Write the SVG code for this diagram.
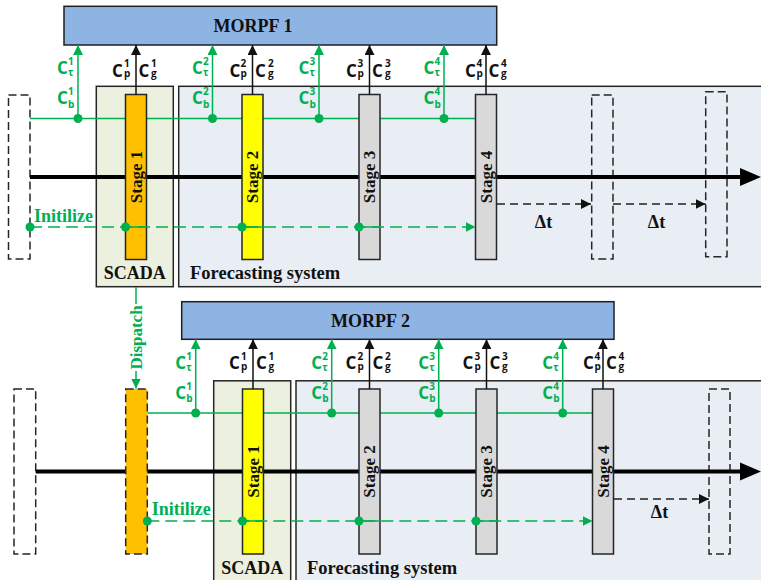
<svg xmlns="http://www.w3.org/2000/svg" width="761" height="580" viewBox="0 0 761 580">
<style>
.morpf{fill:#8EB4E3;stroke:#1F1F1F;stroke-width:1.5}
.scada{fill:#EBF1DE;stroke:#262626;stroke-width:1.5}
.fore{fill:#E9EDF4;stroke:#262626;stroke-width:1.5}
.bar{stroke:#262626;stroke-width:1.5}
.orange{fill:#FFC000}
.yellow{fill:#FFFF00}
.grey{fill:#D9D9D9}
.dbox{fill:none;stroke:#262626;stroke-width:1.5;stroke-dasharray:8 4}
.t{font-family:"Liberation Serif","Times New Roman",serif;font-weight:bold;fill:#111}
.t18{font-size:18px}
.st{font-size:17px;text-anchor:middle}
.mid{text-anchor:middle}
.c{font-family:"Open Sans","Liberation Sans",sans-serif;font-weight:bold}
.big{font-size:17px}
.sm{font-size:10px}
.g{fill:#00B050}
.k{fill:#111}
.axis{stroke:#000;stroke-width:4;fill:none}
.gl{stroke:#00B050;stroke-width:1.5;fill:none}
.gd{stroke:#00B050;stroke-width:1.5;fill:none;stroke-dasharray:12 6}
.kl{stroke:#111;stroke-width:1.5;fill:none}
.kd{stroke:#222;stroke-width:1.5;fill:none;stroke-dasharray:8 5}
.dot{fill:#00B050}
</style>
<defs>
<marker id="ak" viewBox="0 0 10 10" refX="10" refY="5" markerWidth="10" markerHeight="10" markerUnits="userSpaceOnUse" orient="auto"><path d="M0,0L10,5L0,10z" fill="#111"/></marker>
<marker id="ag" viewBox="0 0 10 10" refX="10" refY="5" markerWidth="10" markerHeight="10" markerUnits="userSpaceOnUse" orient="auto"><path d="M0,0L10,5L0,10z" fill="#00B050"/></marker>
</defs>

<!-- ===== TOP SECTION ===== -->
<g id="forecast1"><rect class="fore" x="178.7" y="86.3" width="620" height="200.4"/><text class="t" x="190" y="279" font-size="18.5">Forecasting system</text></g>
<g id="scada1"><rect class="scada" x="96.3" y="86.3" width="77" height="200.4"/><text class="t t18 mid" x="134.8" y="279">SCADA</text></g>
<g id="morpf1"><rect class="morpf" x="64" y="6.3" width="432.7" height="38.7"/><text class="t t18 mid" x="253" y="32.3">MORPF 1</text></g>
<g id="prev1"><rect class="dbox" x="8.5" y="95" width="21.5" height="164"/></g>
<g id="future1a"><rect class="dbox" x="591.7" y="95" width="21.3" height="164"/></g>
<g id="future1b"><rect class="dbox" x="705.7" y="91.7" width="21.3" height="165"/></g>

<!-- ===== BOTTOM SECTION ===== -->
<g id="forecast2"><rect class="fore" x="296" y="380.8" width="500" height="220"/><text class="t" x="307" y="573.5" font-size="18.5">Forecasting system</text></g>
<g id="scada2"><rect class="scada" x="213.7" y="380.8" width="77" height="220"/><text class="t t18 mid" x="252.2" y="573.5">SCADA</text></g>
<g id="morpf2"><rect class="morpf" x="181.7" y="301.7" width="432.3" height="37.6"/><text class="t t18 mid" x="370.5" y="326.8">MORPF 2</text></g>
<g id="prev2"><rect class="dbox" x="14" y="389" width="21.7" height="165"/></g>
<g id="future2"><rect class="dbox" x="709" y="389" width="21" height="165"/></g>

<!-- back connectors -->
<g id="connectors-back">
<line class="axis" x1="30" y1="177" x2="745" y2="177"/>
<polygon points="740,168 761,177 740,186" fill="#000"/>
<line class="gl" x1="30" y1="118.5" x2="475.5" y2="118.5"/>
<line class="axis" x1="35.7" y1="471.5" x2="745" y2="471.5"/>
<polygon points="740,462.5 761,471.5 740,480.5" fill="#000"/>
<line class="gl" x1="147.3" y1="413" x2="592.5" y2="413"/>
</g>

<!-- stage bars top -->
<g id="t-stage1"><rect class="bar orange" x="125.5" y="94.5" width="21" height="165"/><text class="t st" transform="translate(141.5,177) rotate(-90)">Stage 1</text></g>
<g id="t-stage2"><rect class="bar yellow" x="242" y="94.5" width="21" height="165"/><text class="t st" transform="translate(258,177) rotate(-90)">Stage 2</text></g>
<g id="t-stage3"><rect class="bar grey" x="359" y="94.5" width="21" height="165"/><text class="t st" transform="translate(375,177) rotate(-90)">Stage 3</text></g>
<g id="t-stage4"><rect class="bar grey" x="475.5" y="94.5" width="21" height="165"/><text class="t st" transform="translate(491.5,177) rotate(-90)">Stage 4</text></g>

<!-- stage bars bottom -->
<g id="b-dispatched"><rect x="125.7" y="389" width="21.6" height="165" fill="#FFC000" stroke="#262626" stroke-width="1.5" stroke-dasharray="8 4"/></g>
<g id="b-stage1"><rect class="bar yellow" x="242.5" y="389" width="21" height="165"/><text class="t st" transform="translate(258.5,471.5) rotate(-90)">Stage 1</text></g>
<g id="b-stage2"><rect class="bar grey" x="359" y="389" width="21" height="165"/><text class="t st" transform="translate(375,471.5) rotate(-90)">Stage 2</text></g>
<g id="b-stage3"><rect class="bar grey" x="476" y="389" width="21" height="165"/><text class="t st" transform="translate(492,471.5) rotate(-90)">Stage 3</text></g>
<g id="b-stage4"><rect class="bar grey" x="592.5" y="389" width="21" height="165"/><text class="t st" transform="translate(608.5,471.5) rotate(-90)">Stage 4</text></g>

<!-- front connectors -->
<g id="connectors">
<line class="gl" x1="78" y1="118.5" x2="78" y2="45" marker-end="url(#ag)"/>
<line class="gl" x1="212.5" y1="118.5" x2="212.5" y2="45" marker-end="url(#ag)"/>
<line class="gl" x1="319" y1="118.5" x2="319" y2="45" marker-end="url(#ag)"/>
<line class="gl" x1="444" y1="118.5" x2="444" y2="45" marker-end="url(#ag)"/>
<line class="kl" x1="136" y1="94.5" x2="136" y2="45" marker-end="url(#ak)"/>
<line class="kl" x1="252.5" y1="94.5" x2="252.5" y2="45" marker-end="url(#ak)"/>
<line class="kl" x1="369.5" y1="94.5" x2="369.5" y2="45" marker-end="url(#ak)"/>
<line class="kl" x1="486" y1="94.5" x2="486" y2="45" marker-end="url(#ak)"/>
<circle class="dot" cx="78" cy="118.5" r="4.5"/>
<circle class="dot" cx="212.5" cy="118.5" r="4.5"/>
<circle class="dot" cx="319" cy="118.5" r="4.5"/>
<circle class="dot" cx="444" cy="118.5" r="4.5"/>
<line class="gd" x1="30" y1="227" x2="475.5" y2="227" marker-end="url(#ag)"/>
<line class="gl" x1="125.5" y1="227" x2="146.5" y2="227"/>
<line class="gl" x1="242" y1="227" x2="263" y2="227"/>
<line class="gl" x1="359" y1="227" x2="380" y2="227"/>
<circle class="dot" cx="30" cy="227" r="4.5"/>
<circle class="dot" cx="125.5" cy="227" r="4.5"/>
<circle class="dot" cx="242" cy="227" r="4.5"/>
<circle class="dot" cx="359" cy="227" r="4.5"/>
<line class="kd" x1="497" y1="204" x2="591" y2="204" marker-end="url(#ak)"/>
<line class="kd" x1="613" y1="204" x2="705.5" y2="204" marker-end="url(#ak)"/>
<line class="gl" x1="136" y1="287" x2="136" y2="304"/>
<line class="gl" x1="136" y1="371" x2="136" y2="388.5" marker-end="url(#ag)"/>
<line class="gl" x1="195.7" y1="413" x2="195.7" y2="339.3" marker-end="url(#ag)"/>
<line class="gl" x1="331.7" y1="413" x2="331.7" y2="339.3" marker-end="url(#ag)"/>
<line class="gl" x1="438.7" y1="413" x2="438.7" y2="339.3" marker-end="url(#ag)"/>
<line class="gl" x1="562.7" y1="413" x2="562.7" y2="339.3" marker-end="url(#ag)"/>
<line class="kl" x1="253" y1="389" x2="253" y2="339.3" marker-end="url(#ak)"/>
<line class="kl" x1="369.5" y1="389" x2="369.5" y2="339.3" marker-end="url(#ak)"/>
<line class="kl" x1="486.5" y1="389" x2="486.5" y2="339.3" marker-end="url(#ak)"/>
<line class="kl" x1="603" y1="389" x2="603" y2="339.3" marker-end="url(#ak)"/>
<circle class="dot" cx="195.7" cy="413" r="4.5"/>
<circle class="dot" cx="331.7" cy="413" r="4.5"/>
<circle class="dot" cx="438.7" cy="413" r="4.5"/>
<circle class="dot" cx="562.7" cy="413" r="4.5"/>
<line class="gd" x1="147.3" y1="521" x2="592.5" y2="521" marker-end="url(#ag)"/>
<line class="gl" x1="242.5" y1="521" x2="263.5" y2="521"/>
<line class="gl" x1="359" y1="521" x2="380" y2="521"/>
<line class="gl" x1="476" y1="521" x2="497" y2="521"/>
<circle class="dot" cx="147.3" cy="521" r="4.5"/>
<circle class="dot" cx="242.5" cy="521" r="4.5"/>
<circle class="dot" cx="359" cy="521" r="4.5"/>
<circle class="dot" cx="476" cy="521" r="4.5"/>
<line class="kd" x1="614" y1="499" x2="709" y2="499" marker-end="url(#ak)"/>
</g>

<!-- connector labels -->
<g id="labels">
<text class="t t18 g" x="34" y="221.7">Initilize</text>
<text class="t t18 g" x="151.7" y="515">Initilize</text>
<text class="t st g" transform="translate(141.5,337.5) rotate(-90)">Dispatch</text>
<text class="t t18 mid" x="543.5" y="228.3">Δt</text>
<text class="t t18 mid" x="656.5" y="228.3">Δt</text>
<text class="t t18 mid" x="659.5" y="518.3">Δt</text>

<g class="c g">
<text x="57" y="74.3"><tspan class="big">C</tspan><tspan class="sm" x="68" y="65">1</tspan><tspan class="sm" x="68" y="76">τ</tspan></text>
<text x="57" y="104.3"><tspan class="big">C</tspan><tspan class="sm" x="68" y="95">1</tspan><tspan class="sm" x="68" y="108.3">b</tspan></text>
<text x="192" y="74.3"><tspan class="big">C</tspan><tspan class="sm" x="203" y="65">2</tspan><tspan class="sm" x="203" y="76">τ</tspan></text>
<text x="192" y="104.3"><tspan class="big">C</tspan><tspan class="sm" x="203" y="95">2</tspan><tspan class="sm" x="203" y="108.3">b</tspan></text>
<text x="298.5" y="74.3"><tspan class="big">C</tspan><tspan class="sm" x="309.5" y="65">3</tspan><tspan class="sm" x="309.5" y="76">τ</tspan></text>
<text x="298.5" y="104.3"><tspan class="big">C</tspan><tspan class="sm" x="309.5" y="95">3</tspan><tspan class="sm" x="309.5" y="108.3">b</tspan></text>
<text x="423.5" y="74.3"><tspan class="big">C</tspan><tspan class="sm" x="434.5" y="65">4</tspan><tspan class="sm" x="434.5" y="76">τ</tspan></text>
<text x="423.5" y="104.3"><tspan class="big">C</tspan><tspan class="sm" x="434.5" y="95">4</tspan><tspan class="sm" x="434.5" y="108.3">b</tspan></text>
</g>
<g class="c k">
<text x="112" y="76.7"><tspan class="big">C</tspan><tspan class="sm" x="124" y="66.7">1</tspan><tspan class="sm" x="124" y="77.3">p</tspan></text>
<text x="138.5" y="76.7"><tspan class="big">C</tspan><tspan class="sm" x="151" y="66.7">1</tspan><tspan class="sm" x="151" y="77.3">g</tspan></text>
<text x="229.5" y="76.7"><tspan class="big">C</tspan><tspan class="sm" x="240.5" y="66.7">2</tspan><tspan class="sm" x="240.5" y="77.3">p</tspan></text>
<text x="255" y="76.7"><tspan class="big">C</tspan><tspan class="sm" x="268" y="66.7">2</tspan><tspan class="sm" x="268" y="77.3">g</tspan></text>
<text x="346" y="76.7"><tspan class="big">C</tspan><tspan class="sm" x="357.5" y="66.7">3</tspan><tspan class="sm" x="357.5" y="77.3">p</tspan></text>
<text x="372" y="76.7"><tspan class="big">C</tspan><tspan class="sm" x="385" y="66.7">3</tspan><tspan class="sm" x="385" y="77.3">g</tspan></text>
<text x="465" y="76.7"><tspan class="big">C</tspan><tspan class="sm" x="476.5" y="66.7">4</tspan><tspan class="sm" x="476.5" y="77.3">p</tspan></text>
<text x="488.5" y="76.7"><tspan class="big">C</tspan><tspan class="sm" x="501" y="66.7">4</tspan><tspan class="sm" x="501" y="77.3">g</tspan></text>
</g>
<g class="c g">
<text x="175.2" y="369"><tspan class="big">C</tspan><tspan class="sm" x="186.2" y="359.7">1</tspan><tspan class="sm" x="186.2" y="370.7">τ</tspan></text>
<text x="175.2" y="399.3"><tspan class="big">C</tspan><tspan class="sm" x="186.2" y="390">1</tspan><tspan class="sm" x="186.2" y="402">b</tspan></text>
<text x="311.2" y="369"><tspan class="big">C</tspan><tspan class="sm" x="322.2" y="359.7">2</tspan><tspan class="sm" x="322.2" y="370.7">τ</tspan></text>
<text x="311.2" y="399.3"><tspan class="big">C</tspan><tspan class="sm" x="322.2" y="390">2</tspan><tspan class="sm" x="322.2" y="402">b</tspan></text>
<text x="418.2" y="369"><tspan class="big">C</tspan><tspan class="sm" x="429.2" y="359.7">3</tspan><tspan class="sm" x="429.2" y="370.7">τ</tspan></text>
<text x="418.2" y="399.3"><tspan class="big">C</tspan><tspan class="sm" x="429.2" y="390">3</tspan><tspan class="sm" x="429.2" y="402">b</tspan></text>
<text x="542.2" y="369"><tspan class="big">C</tspan><tspan class="sm" x="553.2" y="359.7">4</tspan><tspan class="sm" x="553.2" y="370.7">τ</tspan></text>
<text x="542.2" y="399.3"><tspan class="big">C</tspan><tspan class="sm" x="553.2" y="390">4</tspan><tspan class="sm" x="553.2" y="402">b</tspan></text>
</g>
<g class="c k">
<text x="229" y="369"><tspan class="big">C</tspan><tspan class="sm" x="241" y="360">1</tspan><tspan class="sm" x="241" y="369.8">p</tspan></text>
<text x="256" y="369"><tspan class="big">C</tspan><tspan class="sm" x="268.5" y="360">1</tspan><tspan class="sm" x="268.5" y="369.8">g</tspan></text>
<text x="345.5" y="369"><tspan class="big">C</tspan><tspan class="sm" x="357.5" y="360">2</tspan><tspan class="sm" x="357.5" y="369.8">p</tspan></text>
<text x="372.5" y="369"><tspan class="big">C</tspan><tspan class="sm" x="385" y="360">2</tspan><tspan class="sm" x="385" y="369.8">g</tspan></text>
<text x="462.5" y="369"><tspan class="big">C</tspan><tspan class="sm" x="474.5" y="360">3</tspan><tspan class="sm" x="474.5" y="369.8">p</tspan></text>
<text x="489.5" y="369"><tspan class="big">C</tspan><tspan class="sm" x="502" y="360">3</tspan><tspan class="sm" x="502" y="369.8">g</tspan></text>
<text x="583" y="369"><tspan class="big">C</tspan><tspan class="sm" x="594.5" y="360">4</tspan><tspan class="sm" x="594.5" y="369.8">p</tspan></text>
<text x="606" y="369"><tspan class="big">C</tspan><tspan class="sm" x="618.5" y="360">4</tspan><tspan class="sm" x="618.5" y="369.8">g</tspan></text>
</g>
</g>
</svg>
